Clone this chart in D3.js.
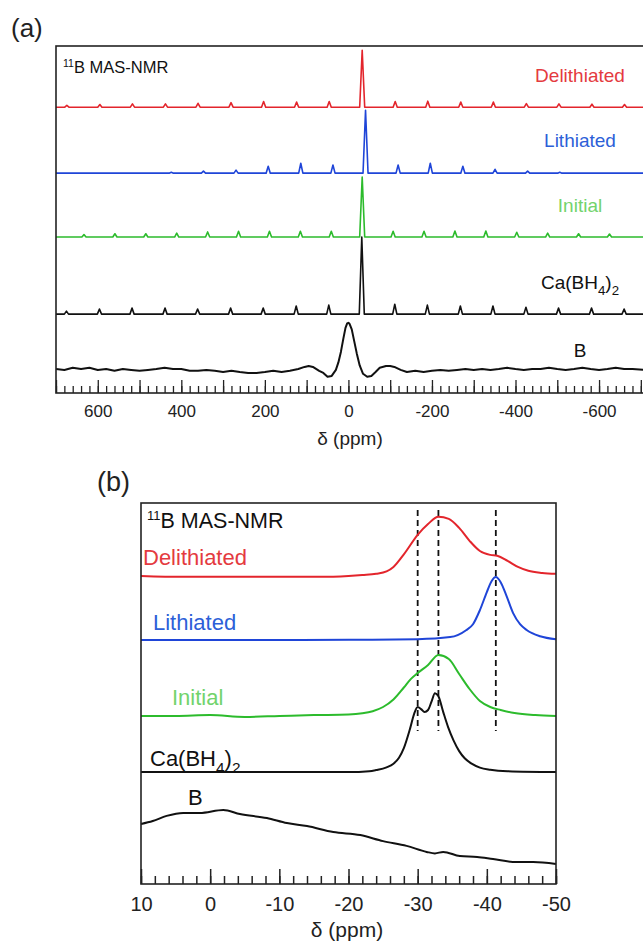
<!DOCTYPE html>
<html>
<head>
<meta charset="utf-8">
<script src="https://cdn.jsdelivr.net/npm/d3@7"></script>
<style>
  body { margin: 0; background: #fff; }
  text { font-family: "Liberation Sans", Arial, sans-serif; }
</style>
</head>
<body>
<svg id="chart" width="643" height="944"></svg>
<script>
(function() {

  // ---------- panel (a): wide sweep, arbitrary intensity units ----------
  const aTickLabels = [600, 400, 200, 0, -200, -400, -600];
  const aNames = ["Delithiated", "Lithiated", "Initial", "Ca(BH4)2", "B"];
  const aOffsets = [95.3, 73.3, 52, 26.3, 7.7];

  // centre band [ppm, height]
  const aMainPeaks = [[-33, 19], [-41, 21], [-33, 20], [-32, 25.7]];

  // spinning sidebands [ppm, height]
  const redSidebands = [[674, 0.6], [595, 0.9], [517, 1.1], [438, 1.1], [360, 1.3], [281, 1.5], [203, 1.9], [124, 1.7], [46, 1.9],
    [-112, 1.9], [-190, 2.0], [-269, 1.7], [-347, 1.7], [-426, 1.2], [-504, 1.1], [-583, 1.0], [-661, 0.9]];
  const blueSidebands = [[424, 0.3], [347, 0.7], [269, 1.0], [192, 2.3], [114, 3.3], [37, 2.7],
    [-119, 2.7], [-196, 3.3], [-274, 2.3], [-351, 1.3], [-429, 0.7], [-506, 0.3]];
  const greenSidebands = [[633, 0.8], [559, 1.1], [485, 1.1], [411, 1.3], [337, 1.7], [263, 1.9], [189, 1.9], [115, 1.9], [41, 1.9],
    [-107, 1.9], [-181, 1.9], [-255, 2.0], [-329, 2.0], [-403, 1.6], [-477, 1.3], [-551, 1.1], [-625, 1.0]];
  const caSidebands = [[675, 1.0], [596, 1.7], [518, 2.0], [439, 2.0], [361, 1.7], [282, 2.0], [204, 2.0], [125, 2.7], [47, 3.0],
    [-111, 3.3], [-189, 3.0], [-268, 2.7], [-346, 2.7], [-425, 2.3], [-503, 2.0], [-582, 2.0], [-660, 1.7]];

  // amorphous boron, broad line [ppm, intensity]
  const boronWide = [[700, 0.3], [680, 0], [660, 0.7], [640, 0.3], [620, 0.7], [600, 0], [580, 0.3], [560, -0.3], [540, 0.3], [520, 0],
    [500, -0.3], [480, 0], [460, 0.3], [440, 0.7], [420, 0.3], [400, 0.3], [380, -0.3], [360, -0.3], [340, 0], [320, -0.3],
    [300, -0.7], [280, -0.3], [260, -0.7], [240, -1], [220, -1], [200, -0.7], [180, -0.3], [160, -0.7], [140, -0.3], [120, 0.3],
    [105, 1.0], [95, 1.3], [85, 1.0], [70, -0.3], [60, -1], [50, -2.3], [40, -2], [30, 0], [24, 2.5], [18, 6], [12, 10.5],
    [7, 14], [3, 15.5], [0, 15.7], [-3, 15.3], [-8, 13.5], [-14, 9.5], [-20, 5.5], [-27, 1.5], [-35, -1.3], [-45, -2.3],
    [-55, -2], [-65, -0.7], [-75, 0.7], [-90, 1.3], [-100, 1.3], [-110, 1], [-125, 0], [-140, -0.7], [-160, -0.3], [-180, -0.7],
    [-200, -0.3], [-220, 0], [-240, -0.3], [-260, 0], [-280, 0.3], [-300, 0], [-320, 0.3], [-340, 0], [-360, 0.3], [-380, 0.7],
    [-400, 0.3], [-420, 0], [-440, 0.3], [-460, 0.3], [-480, 0.7], [-500, 0.3], [-520, 0], [-540, 0.3], [-560, 0.7], [-580, 0.3],
    [-600, 0], [-620, 0.3], [-640, 0.7], [-660, 0.3], [-680, 0.3], [-710, 0]];

  // ---------- panel (b): zoom on the BH4 region ----------
  const bTickLabels = [10, 0, -10, -20, -30, -40, -50];
  const bNames = ["Delithiated", "Lithiated", "Initial", "Ca(BH4)2", "B"];
  const bOffsets = [102.7, 81.3, 56, 37.3, 0];
  const bGuides = [-30, -33, -41.3];

  const redZoom = [[10, 0], [4, -0.3], [-4, -0.3], [-10, -0.3], [-16, -0.3], [-20, 0], [-22, 0.3], [-24, 0.7], [-25.5, 1.5],
    [-26.5, 3], [-28, 7.2], [-30, 13.7], [-31.5, 17.3], [-33, 19.7], [-34.5, 19], [-36, 16], [-37.5, 11.7], [-39, 8.3],
    [-40.5, 7], [-41.5, 6.7], [-43, 5], [-44.5, 3], [-46, 1.7], [-48, 1], [-50, 0.7]];
  const blueZoom = [[10, 0], [0, 0], [-10, 0], [-20, 0.1], [-30, 0.3], [-34.7, 1], [-37, 3.3], [-38, 5.3], [-39, 10], [-40, 16],
    [-40.7, 19.7], [-41.3, 21], [-42, 19.3], [-42.8, 15], [-43.8, 9], [-44.8, 5.3], [-45.8, 3.3], [-47.7, 1.3], [-50, 0.3]];
  const greenZoom = [[10, 0], [5, 0], [0, 0.3], [-5, -0.3], [-10, 0], [-15, 0.3], [-20, 0.5], [-22, 0.9], [-23.5, 1.6], [-25, 3],
    [-26.5, 5.5], [-28, 9.5], [-29, 12.3], [-30, 14.3], [-31.5, 17], [-33, 20.3], [-34.5, 19], [-36, 14], [-37.5, 9], [-39, 5],
    [-40.5, 3], [-42, 2], [-44, 1], [-47, 0.3], [-50, 0]];
  const caZoom = [[10, 0], [-10, 0], [-20, 0], [-23, 0.3], [-24, 0.7], [-25.5, 1.6], [-26.5, 2.8], [-27.3, 4.8], [-28, 8],
    [-28.9, 14.5], [-29.5, 19.5], [-30, 21.7], [-30.5, 21], [-31, 20], [-31.5, 20.7], [-32, 23.5], [-32.5, 26.3], [-33, 25.3],
    [-33.7, 20], [-34.4, 15], [-35.2, 10.5], [-36, 7], [-36.8, 4.6], [-37.8, 2.8], [-39, 1.5], [-40.5, 0.8], [-43, 0.3], [-50, 0]];
  const boronZoom = [[10, 20], [8.3, 21], [6.3, 22.7], [3.9, 23.7], [1.5, 23.7], [-1.9, 24.7], [-4.3, 23.3], [-8.2, 22],
    [-11.1, 20.3], [-14, 19.3], [-17.8, 17.3], [-21.7, 16.3], [-25, 14.3], [-28.4, 12.7], [-31.3, 10.7], [-32.5, 10.2],
    [-33.7, 10.7], [-36.1, 9.3], [-38.6, 9], [-40.9, 8.3], [-44.3, 7.3], [-46.7, 7.3], [-50, 6.7]];

  const lineColors = ["#e3252c", "#1f45d8", "#2cbb2c", "#111", "#111"];
  const labelColors = ["#e43a40", "#2d5fd8", "#72d36c", "#111", "#111"];

  const svg = d3.select("#chart");

  function addName(g, name, x, y, size, anchor, color) {
    const t = g.append("text").attr("x", x).attr("y", y).attr("font-size", size)
      .attr("text-anchor", anchor).attr("fill", color);
    if (name === "Ca(BH4)2") {
      t.append("tspan").text("Ca(BH");
      t.append("tspan").attr("dy", size * 0.3).attr("font-size", size * 0.7).text("4");
      t.append("tspan").attr("dy", -size * 0.3).text(")");
      t.append("tspan").attr("dy", size * 0.3).attr("font-size", size * 0.7).text("2");
    } else {
      t.text(name);
    }
  }

  // ---------- panel (a) ----------
  const xa = d3.scaleLinear().domain([700, -710]).range([56, 645]);
  const ya = d3.scaleLinear().domain([0, 115.7]).range([393, 46]);

  svg.append("defs").append("clipPath").attr("id", "clipA")
    .append("rect").attr("x", 56).attr("y", 40).attr("width", 589).attr("height", 353);

  // turn a list of narrow peaks into a stick-like trace
  function stickTrace(main, sidebands) {
    const pk = sidebands.concat([main]).sort((a, b) => b[0] - a[0]);
    const pts = [[xa.domain()[0], 0]];
    pk.forEach(p => {
      const w = p === main ? 6 : 5;
      pts.push([p[0] + w, 0], [p[0], p[1]], [p[0] - w, 0]);
    });
    pts.push([xa.domain()[1], 0]);
    return pts;
  }

  const aTraces = [
    stickTrace(aMainPeaks[0], redSidebands),
    stickTrace(aMainPeaks[1], blueSidebands),
    stickTrace(aMainPeaks[2], greenSidebands),
    stickTrace(aMainPeaks[3], caSidebands),
    boronWide
  ];

  const ga = svg.append("g");
  aTraces.forEach((tr, i) => {
    const line = d3.line()
      .x(d => xa(d[0]))
      .y(d => ya(d[1] + aOffsets[i]));
    ga.append("path")
      .datum(tr)
      .attr("clip-path", "url(#clipA)")
      .attr("d", line)
      .attr("fill", "none")
      .attr("stroke", lineColors[i])
      .attr("stroke-width", i === 4 ? 2 : 1.6)
      .attr("stroke-linejoin", "round");
  });

  // ticks pointing into the frame
  const aMinor = d3.axisBottom(xa).tickValues(d3.range(-700, 701, 20)).tickSize(-7).tickFormat("");
  const aMajor = d3.axisBottom(xa).tickValues(d3.range(-700, 701, 100)).tickSize(-13).tickPadding(12)
    .tickFormat(d => aTickLabels.includes(d) ? d : "");
  [aMinor, aMajor].forEach(ax => {
    const g = ga.append("g").attr("transform", "translate(0,393)").call(ax);
    g.select(".domain").remove();
    g.selectAll("line").attr("stroke", "#222").attr("stroke-width", 1.3);
    g.selectAll("text").attr("font-size", 17).attr("fill", "#222")
      .attr("font-family", '"Liberation Sans", Arial, sans-serif');
  });

  ga.append("rect").attr("x", 56).attr("y", 46).attr("width", 600).attr("height", 347)
    .attr("fill", "none").attr("stroke", "#222").attr("stroke-width", 1.6);

  ga.append("text").attr("x", 350).attr("y", 445).attr("text-anchor", "middle")
    .attr("font-size", 19).attr("fill", "#222").text("δ (ppm)");
  svg.append("text").attr("x", 11).attr("y", 37).attr("font-size", 26).attr("fill", "#222").text("(a)");

  const aHead = ga.append("text").attr("x", 63).attr("y", 73).attr("font-size", 16.5).attr("fill", "#111");
  aHead.append("tspan").attr("font-size", 10.5).attr("dy", -6).text("11");
  aHead.append("tspan").attr("dy", 6).text("B MAS-NMR");

  const aLabelY = [82, 147, 212, 289, 357];
  aNames.forEach((n, i) => addName(ga, n, 580, aLabelY[i], 19, "middle", labelColors[i]));

  // ---------- panel (b) ----------
  const xb = d3.scaleLinear().domain([10, -50]).range([141, 556]);
  const yb = d3.scaleLinear().domain([0, 127]).range([884, 503]);
  const gb = svg.append("g");

  gb.selectAll(".guide")
    .data(bGuides)
    .enter()
    .append("line")
    .attr("class", "guide")
    .attr("x1", d => xb(d)).attr("x2", d => xb(d))
    .attr("y1", 510).attr("y2", 731)
    .attr("stroke", "#111").attr("stroke-width", 1.8).attr("stroke-dasharray", "6,4");

  [redZoom, blueZoom, greenZoom, caZoom, boronZoom].forEach((tr, i) => {
    const line = d3.line()
      .x(d => xb(d[0]))
      .y(d => yb(d[1] + bOffsets[i]))
      .curve(d3.curveMonotoneX);
    gb.append("path")
      .datum(tr)
      .attr("d", line)
      .attr("fill", "none")
      .attr("stroke", lineColors[i])
      .attr("stroke-width", 2);
  });

  const bMinor = d3.axisBottom(xb).tickValues(d3.range(-50, 11, 2)).tickSize(-8).tickFormat("");
  const bMajor = d3.axisBottom(xb).tickValues(bTickLabels).tickSize(-15).tickPadding(13).tickFormat(d => d);
  [bMinor, bMajor].forEach(ax => {
    const g = gb.append("g").attr("transform", "translate(0,884)").call(ax);
    g.select(".domain").remove();
    g.selectAll("line").attr("stroke", "#222").attr("stroke-width", 1.5);
    g.selectAll("text").attr("font-size", 20).attr("fill", "#222")
      .attr("font-family", '"Liberation Sans", Arial, sans-serif');
  });

  gb.append("rect").attr("x", 141).attr("y", 503).attr("width", 415).attr("height", 381)
    .attr("fill", "none").attr("stroke", "#222").attr("stroke-width", 1.6);

  gb.append("text").attr("x", 347).attr("y", 937).attr("text-anchor", "middle")
    .attr("font-size", 21).attr("fill", "#222").text("δ (ppm)");
  svg.append("text").attr("x", 97).attr("y", 491).attr("font-size", 27).attr("fill", "#222").text("(b)");

  const bHead = gb.append("text").attr("x", 147).attr("y", 528).attr("font-size", 21.5).attr("fill", "#111");
  bHead.append("tspan").attr("font-size", 13).attr("dy", -8).text("11");
  bHead.append("tspan").attr("dy", 8).text("B MAS-NMR");

  const bLabelX = [143, 153, 172, 150, 188];
  const bLabelY = [565, 630, 705, 766, 805];
  bNames.forEach((n, i) => addName(gb, n, bLabelX[i], bLabelY[i], 22, "start", labelColors[i]));

})();
</script>
</body>
</html>
